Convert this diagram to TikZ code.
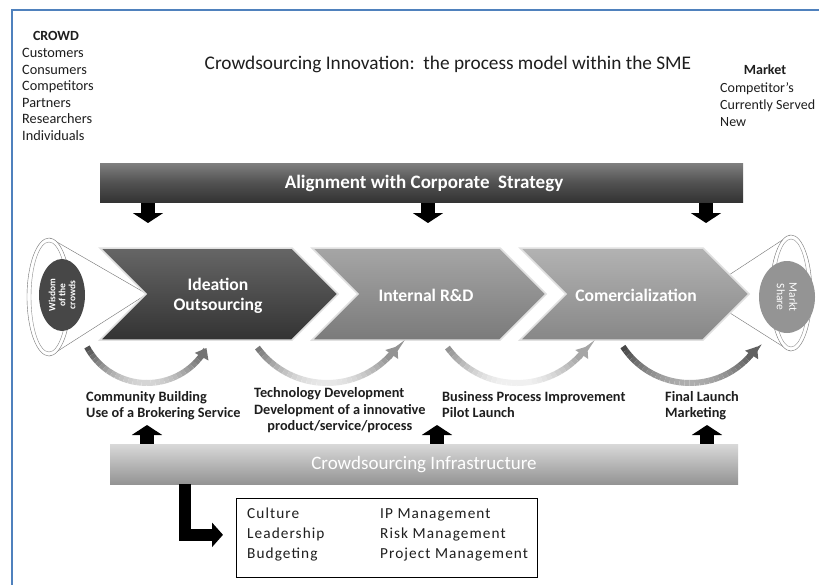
\documentclass[tikz,border=0pt]{standalone}
\usepackage{fontspec}
\setmainfont{Carlito}
\newfontfamily\spacedfont[LetterSpace=7]{Carlito}
\usetikzlibrary{arrows.meta,calc}
\definecolor{frameblue}{RGB}{79,129,189}
\definecolor{ink}{RGB}{30,30,30}
\newcommand\fs[2]{\fontsize{#1}{#2}\selectfont}

% curved process arrow with a shade that fades towards the bottom
% #1,#2 centre, #3 radius, #4 start angle, #5 end angle,
% #6 start shade, #7 end shade, #8 fade depth
\newcommand\cyclearrow[8]{%
  \foreach \k in {0,...,29}{%
    \pgfmathsetmacro\aa{#4+(#5-#4)*\k/30}%
    \pgfmathsetmacro\ab{#4+(#5-#4)*(\k+1)/30}%
    \pgfmathsetmacro\tt{\k/29}%
    \pgfmathsetmacro\pc{max(6,(1-\tt)*#6+\tt*#7-#8*sin(180*\tt))}%
    \draw[line width=6pt, draw=black!\pc] ($(#1,#2)+(\aa:#3)$) arc[start angle=\aa, end angle=\ab, radius=#3];
  }%
  \pgfmathsetmacro\ac{#5+1}%
  \pgfmathsetmacro\ad{#5-8}%
  \draw[line width=6pt, draw=black!#7, fill=black!#7, -{Triangle[width=15pt,length=10pt]}]
    ($(#1,#2)+(\ac:#3)$) arc[start angle=\ac, end angle=\ad, radius=#3];
}

% chevron: left x, top-right x, shading options
\newcommand\chevron[3]{%
  \shade[#3, draw=black!12, line width=1.5pt, line join=miter]
    (#1,248) -- (#2,248) -- ($(#2,294)+(46,0)$) -- (#2,340) -- (#1,340) -- ($(#1,294)+(46,0)$) -- cycle;
}

\begin{document}
\begin{tikzpicture}[x=1pt,y=-1pt,
  bodytext/.style={font=\fs{14.3}{16.6}, text=ink, align=left, inner sep=0pt, anchor=north west},
  headtext/.style={font=\fs{14}{16.6}\bfseries, text=ink, inner sep=0pt, anchor=base},
  titletext/.style={font=\fs{19.3}{22}, text=ink, inner sep=0pt, anchor=base},
  bartext/.style={font=\fs{19}{22}\bfseries, text=white, inner sep=0pt},
  chevtext/.style={font=\fs{17.6}{20}\bfseries, text=white, align=center, inner sep=0pt},
  steptext/.style={font=\fs{14.3}{16.5}\bfseries, text=ink, align=left, inner sep=0pt, anchor=north west},
  boxtext/.style={font=\fs{15.3}{20}\spacedfont, text=ink, align=left, inner sep=0pt, anchor=north west},
  blockdown/.style={line width=14pt, -{Triangle[width=30pt,length=10pt]}, black},
  blockup/.style={line width=14pt, -{Triangle[width=30pt,length=10pt]}, black},
]
\useasboundingbox (0,0) rectangle (819,584);
\fill[white] (0,0) rectangle (819,584);

% frame
\draw[frameblue, line width=2.5pt] (12,600) -- (12,10) -- (830,10);

% heading texts
\node[headtext] (crowdhead) at (56,40) {CROWD};
\node[bodytext] (crowdlist) at (22,48) {Customers\\Consumers\\Competitors\\Partners\\Researchers\\Individuals};
\node[titletext] (title) at (448,69) {Crowdsourcing Innovation:\ \ the process model within the SME};
\node[headtext] (markethead) at (765,74) {Market};
\node[bodytext, font=\fs{14}{17}] (marketlist) at (720,82) {Competitor's\\Currently Served\\New};

% alignment bar
\shade[top color=black!50, bottom color=black!80, middle color=black!68] (100,163) rectangle (743,202);
\node[bartext] (align) at (424,183) {Alignment with Corporate\ \ Strategy};
\draw[blockdown] (148,203) -- (148,223);
\draw[blockdown] (428,203) -- (428,223);
\draw[blockdown] (706,203) -- (706,223);

% funnels at both ends
\draw[black!55, fill=white] (50,238) -- (147,294) -- (50,356) -- cycle;
\draw[black!55, fill=white] (790,235) -- (700,294) -- (790,351) -- cycle;

% process chevrons
\chevron{100}{292}{top color=black!60, bottom color=black!80}
\chevron{312}{500}{top color=black!35, bottom color=black!52}
\chevron{520}{703}{top color=black!30, bottom color=black!47}
\node[chevtext] (ideation) at (218,296) {Ideation\\Outsourcing};
\node[chevtext] (rnd) at (426,295) {Internal R\&D};
\node[chevtext] (comm) at (636,295) {Comercialization};

% wisdom of the crowds
\draw[black!55, fill=white] (49,297) ellipse[x radius=22, y radius=59];
\draw[black!45] (49,297) ellipse[x radius=18, y radius=55];
\fill[black!72] (62,295) ellipse[x radius=23, y radius=36];
\node[font=\fs{9.5}{10}\bfseries, text=white, align=center, rotate=90, inner sep=0pt] (wisdom) at (62,295) {Wisdom\\of the\\crowds};

% market share
\draw[black!55, fill=white] (791,293) ellipse[x radius=21, y radius=58];
\draw[black!45] (791,293) ellipse[x radius=17, y radius=54];
\fill[black!42] (787,297) ellipse[x radius=28, y radius=36];
\node[font=\fs{11.5}{12.5}, text=white, align=center, rotate=-90, inner sep=0pt] (share) at (787,297) {Markt\\Share};

% curved arrows
\cyclearrow{147}{315}{68}{152}{37}{68}{55}{45}
\cyclearrow{327}{297}{86}{144}{43}{52}{42}{38}
\cyclearrow{517}{297}{86}{144}{43}{42}{35}{34}
\cyclearrow{690}{303}{80}{147}{41}{72}{62}{35}

% activity labels
\node[steptext] (community) at (86,391) {Community Building\\Use of a Brokering Service};
\node[steptext, anchor=north west] (techdev) at (254,386) {\begin{tabular}{@{}l@{}}Technology Development\\Development of a innovative\\\multicolumn{1}{@{}c@{}}{product/service/process}\end{tabular}};
\node[steptext] (business) at (442,391) {Business Process Improvement\\Pilot Launch};
\node[steptext] (launch) at (665,391) {Final Launch\\Marketing};

\draw[blockup] (147,445) -- (147,425);
\draw[blockup] (437,445) -- (437,425);
\draw[blockup] (707,445) -- (707,425);

% infrastructure bar
\shade[top color=black!15, bottom color=black!42] (110,444) rectangle (738,484);
\node[bartext, font=\fs{19}{22}] (infra) at (424,465) {Crowdsourcing Infrastructure};

% enablers box
\draw[black, line width=1pt] (236,498) rectangle (537,577);
\node[boxtext] (enablersA) at (247,508) {Culture\\Leadership\\Budgeting};
\node[boxtext] (enablersB) at (380,508) {IP Management\\Risk Management\\Project Management};
\draw[line width=12pt, line join=miter, -{Triangle[width=24pt,length=11pt]}] (185,484) |- (enablersA.west -| 223,0) ;
\end{tikzpicture}
\end{document}
